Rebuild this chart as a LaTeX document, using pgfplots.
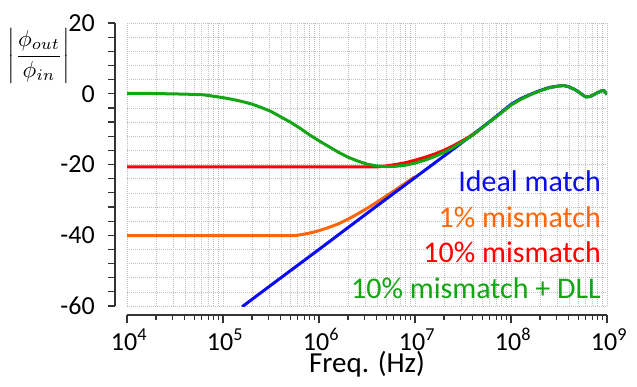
\documentclass[border=0pt]{standalone}
\usepackage{pgfplots}
\pgfplotsset{compat=1.18}
\usepackage{fontspec}
\setmainfont{Carlito}
\definecolor{cblue}{RGB}{10,10,245}
\definecolor{corange}{RGB}{255,102,10}
\definecolor{cred}{RGB}{255,0,0}
\definecolor{cgreen}{RGB}{20,165,20}
\begin{document}
\begin{tikzpicture}
\useasboundingbox (-127pt,-80pt) rectangle (510pt,306pt);
% grid + data axis
\begin{axis}[
  scale only axis, width=480pt, height=283pt,
  at={(0,0)}, anchor=south west,
  xmode=log, xmin=1e4, xmax=1e9, ymin=-60, ymax=20,
  xtick={1e4,1e5,1e6,1e7,1e8,1e9},
  minor xtick={2e4,3e4,4e4,5e4,6e4,7e4,8e4,9e4,2e5,3e5,4e5,5e5,6e5,7e5,8e5,9e5,2e6,3e6,4e6,5e6,6e6,7e6,8e6,9e6,2e7,3e7,4e7,5e7,6e7,7e7,8e7,9e7,2e8,3e8,4e8,5e8,6e8,7e8,8e8,9e8},
  ytick={-60,-56,...,20},
  xticklabels={}, yticklabels={},
  grid=both,
  major grid style={gray!50, line width=0.6pt, dash pattern=on 1pt off 1pt},
  minor grid style={gray!50, line width=0.6pt, dash pattern=on 1pt off 1pt},
  axis line style={draw=none},
  major tick length=0pt, minor tick length=0pt,
  line join=round,
]
\addplot[corange, line width=3pt] coordinates {
(1e4,-40.1) (5.623e5,-40.1) (6.310e5,-39.9) (7.943e5,-39.4) (1e6,-38.7) (1.259e6,-37.8) (1.585e6,-36.8) (1.995e6,-35.5) (2.512e6,-34.0) (3.162e6,-32.4) (3.981e6,-30.7) (5.012e6,-28.9) (6.310e6,-27.1) (7.943e6,-25.3) (1e7,-23.4)
};
\addplot[cblue, line width=3pt] coordinates {
(1.585e5,-60.2) (3.162e5,-54.1) (1e6,-44.0) (3.162e6,-33.8) (1e7,-23.7) (3.162e7,-13.6) (5.012e7,-9.5) (6.310e7,-7.4) (7.943e7,-5.2) (1e8,-3.0) (1.259e8,-1.4) (1.585e8,-0.2) (1.995e8,0.9) (2.512e8,1.8) (3.162e8,2.2) (3.548e8,2.3) (3.981e8,2.0) (4.467e8,1.4) (5.012e8,0.6) (5.623e8,-0.4) (6.026e8,-0.9) (6.607e8,-0.8) (7.244e8,-0.3) (7.943e8,0.3) (8.710e8,0.8) (9.333e8,0.9) (1e9,-0.2)
};
\addplot[cred, line width=3pt] coordinates {
(1e4,-20.7) (3.981e6,-20.7) (5.012e6,-20.4) (6.310e6,-20.0) (7.943e6,-19.5) (1e7,-18.8) (1.259e7,-18.0) (1.585e7,-17.1) (1.995e7,-16.0) (2.512e7,-14.7) (3.162e7,-13.2) (3.981e7,-11.6) (4.467e7,-10.7)
};
\addplot[cgreen, line width=3pt] coordinates {
(1e4,0.1) (1.585e4,0.1) (2.512e4,0.0) (3.981e4,-0.1) (6.310e4,-0.3) (1e5,-1.1) (1.259e5,-1.6) (1.585e5,-2.2) (1.995e5,-2.9) (2.512e5,-3.9) (3.162e5,-5.0) (3.981e5,-6.5) (5.012e5,-8.0) (6.310e5,-9.7) (7.943e5,-11.6) (1e6,-13.3) (1.259e6,-14.9) (1.585e6,-16.5) (1.995e6,-17.9) (2.512e6,-19.0) (3.162e6,-19.9) (3.981e6,-20.4) (5.012e6,-20.6) (6.310e6,-20.5) (7.943e6,-20.2) (1e7,-19.6) (1.259e7,-18.8) (1.585e7,-17.8) (1.995e7,-16.6) (2.512e7,-15.2) (3.162e7,-13.5) (3.981e7,-11.7) (5.012e7,-9.6) (6.310e7,-7.5) (7.943e7,-5.4) (1e8,-3.2) (1.259e8,-1.6) (1.585e8,-0.3) (1.995e8,0.8) (2.512e8,1.7) (3.162e8,2.2) (3.548e8,2.3) (3.981e8,2.0) (4.467e8,1.4) (5.012e8,0.6) (5.623e8,-0.4) (6.026e8,-0.9) (6.607e8,-0.8) (7.244e8,-0.3) (7.943e8,0.3) (8.710e8,0.8) (9.333e8,0.9) (1e9,-0.2)
};
\end{axis}
% y axis (offset left)
\begin{axis}[
  scale only axis, width=480pt, height=283pt,
  at={(-12pt,0)}, anchor=south west,
  xmin=0, xmax=1, ymin=-60, ymax=20,
  axis x line=none, axis y line*=left,
  ytick={-60,-40,-20,0,20},
  yticklabels={-60,-40,-20,0,20},
  minor ytick={-56,-52,-48,-44,-36,-32,-28,-24,-16,-12,-8,-4,4,8,12,16},
  tick align=outside,
  major tick length=7pt, minor tick length=7pt,
  axis line style={black!80, line width=1.2pt},
  every tick/.style={black!80, line width=1.2pt},
  yticklabel style={font=\fontsize{26}{30}\selectfont, anchor=east, inner sep=0pt, xshift=-13pt},
]
\end{axis}
% x axis (offset down)
\begin{axis}[
  scale only axis, width=480pt, height=283pt,
  at={(0,-9pt)}, anchor=south west,
  xmode=log, xmin=1e4, xmax=1e9, ymin=0, ymax=1,
  axis y line=none, axis x line*=bottom,
  xtick={1e4,1e5,1e6,1e7,1e8,1e9},
  xticklabels={10\textsuperscript{4},10\textsuperscript{5},10\textsuperscript{6},10\textsuperscript{7},10\textsuperscript{8},10\textsuperscript{9}},
  minor xtick={2e4,3e4,4e4,5e4,6e4,7e4,8e4,9e4,2e5,3e5,4e5,5e5,6e5,7e5,8e5,9e5,2e6,3e6,4e6,5e6,6e6,7e6,8e6,9e6,2e7,3e7,4e7,5e7,6e7,7e7,8e7,9e7,2e8,3e8,4e8,5e8,6e8,7e8,8e8,9e8},
  tick align=outside,
  major tick length=8pt, minor tick length=5pt,
  axis line style={black!80, line width=1.2pt},
  every tick/.style={black!80, line width=1.2pt},
  xticklabel style={font=\fontsize{26}{30}\selectfont, anchor=base, yshift=-27pt, xshift=2pt, inner sep=0pt},
  xlabel={Freq. (Hz)},
  xlabel style={font=\fontsize{29}{32}\selectfont, anchor=base, at={(0.5,0)}, yshift=-57pt, inner sep=0pt},
]
\end{axis}
% y label
\node[scale=2.3] at (-88pt,250pt) {$\left|\displaystyle\frac{\phi_{out}}{\phi_{in}}\right|$};
% legend texts
\begin{scope}[every node/.style={anchor=base east, inner sep=0pt, font=\fontsize{30}{34}\selectfont}]
\node[text=cblue] at (474pt,114.3pt) {Ideal match};
\node[text=corange] at (474pt,78.7pt) {1\% mismatch};
\node[text=cred] at (474pt,43.3pt) {10\% mismatch};
\node[text=cgreen] at (474pt,7.7pt) {10\% mismatch + DLL};
\end{scope}
\end{tikzpicture}
\end{document}
